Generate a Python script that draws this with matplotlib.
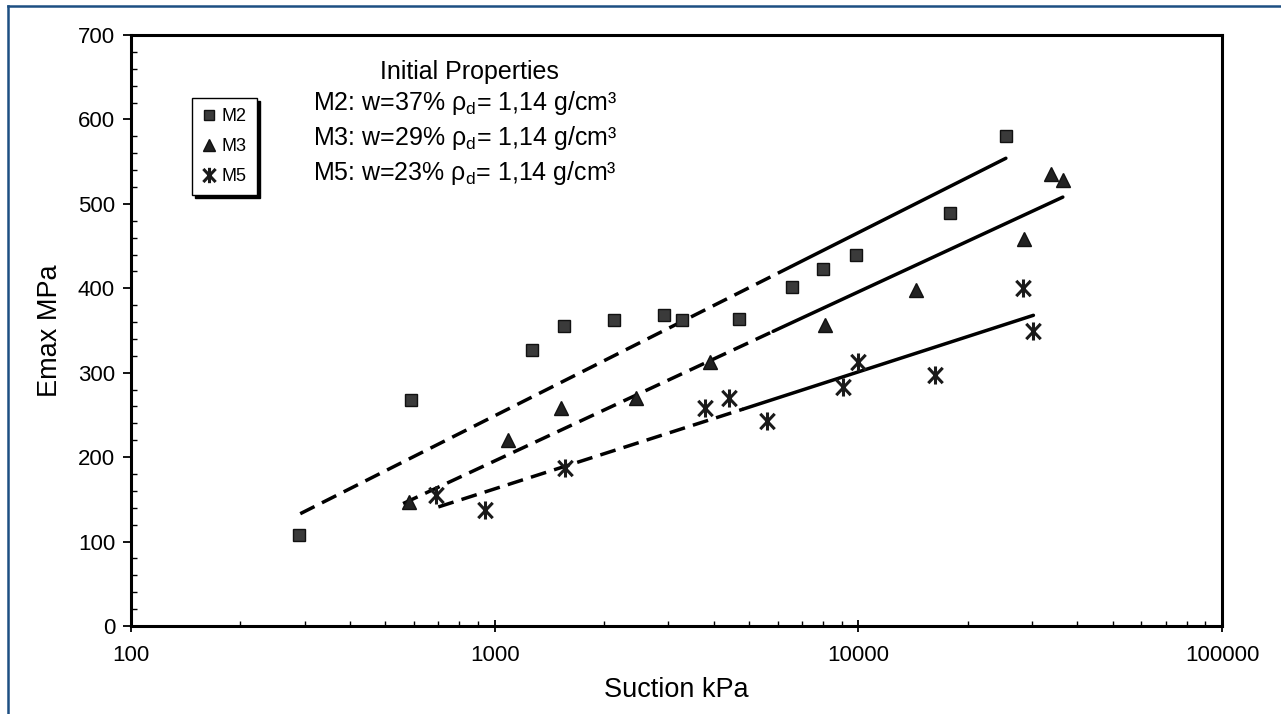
import matplotlib
matplotlib.use("Agg")
import matplotlib.pyplot as plt
from matplotlib.lines import Line2D
from matplotlib.path import Path
from matplotlib.ticker import LogLocator, MultipleLocator, NullFormatter, FixedLocator, FixedFormatter

plt.rcParams['font.family'] = ['Liberation Sans', 'DejaVu Sans']
plt.rcParams['mathtext.default'] = 'regular'

# ---- data ----
m2_x = [290, 590, 1265, 1555, 2130, 2920, 3280, 4710, 6590, 8000, 9880, 17900, 25500]
m2_y = [108, 268, 327, 355, 362, 368, 362, 364, 402, 423, 439, 489, 580]

m3_x = [580, 1090, 1520, 2450, 3900, 8100, 14400, 28500, 33900, 36600]
m3_y = [147, 220, 258, 270, 313, 357, 398, 458, 535, 528]

m5_x = [690, 940, 1560, 3780, 4420, 5600, 9100, 10000, 16300, 28300, 30300]
m5_y = [155, 137, 187, 258, 270, 243, 283, 313, 297, 400, 349]

# trend lines: start, dashed->solid break, end
m2_fit_x = [292, 6550, 25450]
m2_fit_y = [133, 426, 554]
m3_fit_x = [560, 5830, 36500]
m3_fit_y = [145, 349, 508]
m5_fit_x = [700, 4830, 30300]
m5_fit_y = [141, 257, 368]

x_ticks = [100, 1000, 10000, 100000]
x_ticklabels = ['100', '1000', '10000', '100000']
y_ticks = [0, 100, 200, 300, 400, 500, 600, 700]

series_labels = ['M2', 'M3', 'M5']
info_title = 'Initial Properties'
info_lines = ['M2: w=37% ρ$_{d}$= 1,14 g/cm³',
              'M3: w=29% ρ$_{d}$= 1,14 g/cm³',
              'M5: w=23% ρ$_{d}$= 1,14 g/cm³']

# asterisk marker shaped like a vertical bar crossed by an X
star_path = Path([(0, -1), (0, 1), (-0.8, -0.85), (0.8, 0.85), (-0.8, 0.85), (0.8, -0.85)],
                 [Path.MOVETO, Path.LINETO, Path.MOVETO, Path.LINETO, Path.MOVETO, Path.LINETO])

# ---- figure ----
W, H = 1281, 714
fig = plt.figure(figsize=(W / 100, H / 100), dpi=100)
L, R, T, B = 131, 1222, 35, 626
ax = fig.add_axes([L / W, 1 - B / H, (R - L) / W, (B - T) / H])

ax.set_xscale('log')
ax.set_xlim(100, 100000)
ax.set_ylim(0, 700)

dash = (4.6, 2.4)
lw = 2.5
for fx, fy in [(m2_fit_x, m2_fit_y), (m3_fit_x, m3_fit_y), (m5_fit_x, m5_fit_y)]:
    ax.plot(fx[:2], fy[:2], color='black', lw=lw, dashes=dash, solid_capstyle='round', zorder=2)
    ax.plot(fx[1:], fy[1:], color='black', lw=lw, solid_capstyle='round', zorder=2)

ax.plot(m2_x, m2_y, ls='none', marker='s', ms=8.5, mfc='#3a3a3a', mec='#111111', mew=1.0,
        label=series_labels[0], zorder=3)
ax.plot(m3_x, m3_y, ls='none', marker='^', ms=9.5, mfc='#222222', mec='#111111', mew=1.0,
        label=series_labels[1], zorder=3)
ax.plot(m5_x, m5_y, ls='none', marker=star_path, ms=13, mfc='none', mec='#1a1a1a', mew=2.2,
        label=series_labels[2], zorder=3)

# axes styling
for s in ax.spines.values():
    s.set_linewidth(2.2)
    s.set_color('black')

ax.xaxis.set_major_locator(FixedLocator(x_ticks))
ax.xaxis.set_major_formatter(FixedFormatter(x_ticklabels))
ax.xaxis.set_minor_locator(LogLocator(base=10, subs=[2, 3, 4, 5, 6, 7, 8, 9]))
ax.xaxis.set_minor_formatter(NullFormatter())
ax.yaxis.set_major_locator(FixedLocator(y_ticks))
ax.yaxis.set_minor_locator(MultipleLocator(20))

ax.tick_params(axis='x', which='major', direction='inout', length=9, width=1.3, pad=9, labelsize=16)
ax.tick_params(axis='x', which='minor', direction='in', length=3.5, width=1.0)
ax.tick_params(axis='y', which='major', direction='out', length=5.5, width=1.3, pad=6, labelsize=16)
ax.tick_params(axis='y', which='minor', direction='in', length=4.5, width=1.0)

ax.set_xlabel('Suction kPa', fontsize=19.5)
ax.set_ylabel('Emax MPa', fontsize=19.5)
ax.xaxis.set_label_coords(0.5, (B - 690) / (B - T))
ax.xaxis.label.set_va('center')
ax.yaxis.set_label_coords((50 - L) / (R - L), 0.5)
ax.yaxis.label.set_va('center')

# info text
ax.text((380 - L) / (R - L), (B - 72) / (B - T), info_title, transform=ax.transAxes,
        fontsize=18, va='center', ha='left')
for txt, yy in zip(info_lines, [103, 138, 173]):
    ax.text((313 - L) / (R - L), (B - yy) / (B - T), txt, transform=ax.transAxes,
            fontsize=18, va='center', ha='left')

leg = ax.legend(loc='upper left', bbox_to_anchor=((192 - L) / (R - L), (B - 98) / (B - T)),
                borderaxespad=0, frameon=True, fancybox=False, shadow={'color': 'black', 'alpha': 1},
                edgecolor='black', framealpha=1, fontsize=13, handlelength=0.8,
                handletextpad=0.3, labelspacing=0.72, borderpad=0.55, markerscale=0.85)
leg.get_frame().set_linewidth(1.0)

# blue frame (left and top edges)
blue = '#1d4f82'
fig.add_artist(Line2D([8 / W, 8 / W], [0, 1 - 6 / H], color=blue, lw=1.8, transform=fig.transFigure))
fig.add_artist(Line2D([8 / W, 1], [1 - 6 / H, 1 - 6 / H], color=blue, lw=1.8, transform=fig.transFigure))

fig.savefig('out.png', dpi=100)
